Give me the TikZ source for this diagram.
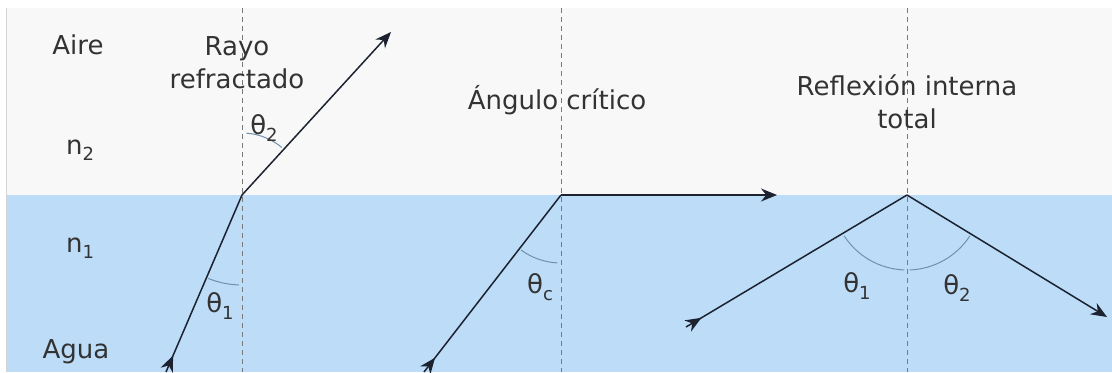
\documentclass[tikz,border=0pt]{standalone}
\usepackage{fontspec}
\setmainfont{DejaVu Sans}
\usetikzlibrary{arrows.meta,decorations.markings}
\definecolor{AirGray}{HTML}{F8F8F8}
\definecolor{WaterBlue}{HTML}{BCDCF8}
\definecolor{RayDark}{HTML}{1C2230}
\definecolor{ArcBlue}{HTML}{7090AE}
\definecolor{NormalGray}{HTML}{7A7A7A}
\definecolor{EdgeGray}{HTML}{D4D4D4}
\newcommand{\lowsub}[1]{\raisebox{-0.45ex}{\fontsize{9}{9}\selectfont #1}}
\tikzset{
  ray/.style={RayDark, line width=0.75pt},
  rayout/.style={ray, -{Stealth[length=8pt,width=6.5pt]}},
  rayin/.style={ray, postaction={decorate},
    decoration={markings, mark=at position 9pt with {\arrow{Stealth[length=8pt,width=6.5pt]}}}},
  normalline/.style={NormalGray, line width=0.4pt, dash pattern=on 2.5pt off 2pt},
  anglearc/.style={ArcBlue, line width=0.5pt},
  txt/.style={font=\fontsize{13}{16.5}\selectfont, text=black!80, align=center, inner sep=0pt}
}

\begin{document}
\begin{tikzpicture}[x=0.5pt, y=0.5pt]
  \useasboundingbox (0,0) rectangle (1112,372);
  \fill[white] (0,0) rectangle (1112,372);
  % media
  \fill[AirGray]   (7,177) rectangle (1112,364);
  \fill[WaterBlue] (7,0)   rectangle (1112,177);
  \draw[EdgeGray, line width=0.6pt] (6.5,0) -- (6.5,364);

  % points of incidence and ray ends
  \coordinate (O1) at (242,177);
  \coordinate (O2) at (561,177);
  \coordinate (O3) at (907,177);
  \coordinate (in1)  at (166,0);
  \coordinate (out1) at (391,340);
  \coordinate (in2)  at (424,0);
  \coordinate (out2) at (777,177);
  \coordinate (in3)  at (686,45);
  \coordinate (out3) at (1107,55);

  % normals
  \draw[normalline] (242,364) -- (242,0);
  \draw[normalline] (561,364) -- (561,0);
  \draw[normalline] (907,364) -- (907,0);

  % side labels
  \node[txt] (aire) at (78,327) {Aire};
  \node[txt] (n2)   at (80,222) {n\lowsub{2}};
  \node[txt] (n1)   at (80,124) {n\lowsub{1}};
  \node[txt] (agua) at (76,20)  {Agua};

  % titles
  \node[txt] (refr) at (237,309) {Rayo\\refractado};
  \node[txt] (crit) at (557,272) {Ángulo crítico};
  \node[txt] (tir)  at (907,270) {Reflexión interna\\total};

  % rays
  \draw[rayin]  (in1) -- (O1);
  \draw[rayout] (O1) -- (out1);
  \draw[rayin]  (in2) -- (O2);
  \draw[rayout] (O2) -- (out2);
  \draw[rayin]  (in3) -- (O3);
  \draw[rayout] (O3) -- (out3);

  % angles
  \draw[anglearc] (O1) ++(248:45pt) arc[start angle=248, end angle=268, radius=45pt];
  \draw[anglearc] (O1) ++(50:31pt) arc[start angle=50, end angle=86, radius=31pt];
  \draw[anglearc] (O2) ++(234:34pt) arc[start angle=234, end angle=267, radius=34pt];
  \draw[anglearc] (O3) ++(213:37.5pt) arc[start angle=213, end angle=268, radius=37.5pt];
  \draw[anglearc] (O3) ++(272:37.5pt) arc[start angle=272, end angle=327, radius=37.5pt];

  \node[txt] (t1a) at (220,66)  {θ\lowsub{1}};
  \node[txt] (t2a) at (264,244) {θ\lowsub{2}};
  \node[txt] (tc)  at (540,85)  {θ\lowsub{c}};
  \node[txt] (t1b) at (857,86)  {θ\lowsub{1}};
  \node[txt] (t2b) at (957,84)  {θ\lowsub{2}};
\end{tikzpicture}
\end{document}
